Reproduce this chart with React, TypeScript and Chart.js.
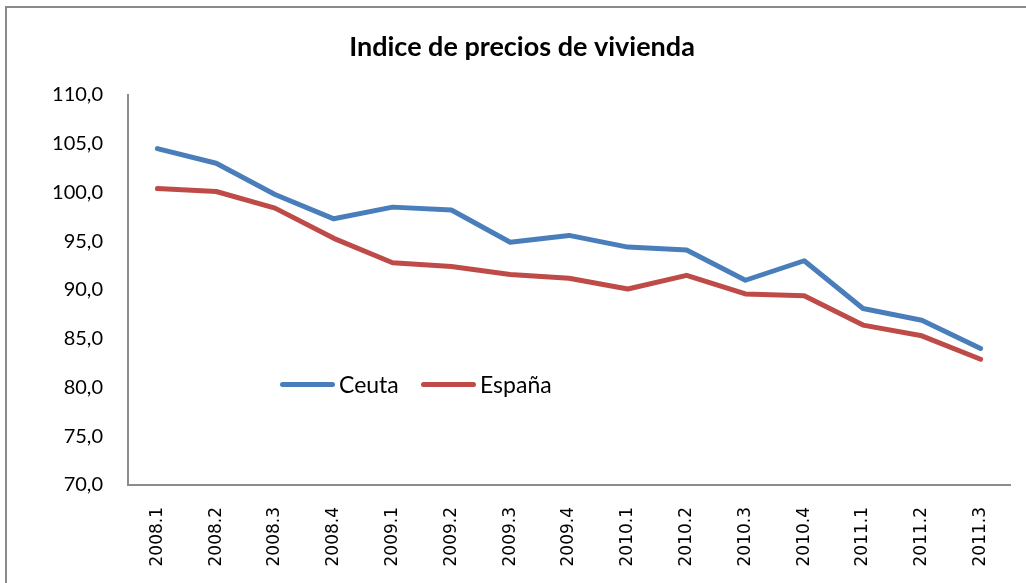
import React, { useEffect, useRef } from "react";
import { Chart, registerables } from "chart.js";

Chart.register(...registerables);

const categories = [
  "2008.1", "2008.2", "2008.3", "2008.4",
  "2009.1", "2009.2", "2009.3", "2009.4",
  "2010.1", "2010.2", "2010.3", "2010.4",
  "2011.1", "2011.2", "2011.3",
];

const ceuta = [104.5, 103.0, 99.8, 97.3, 98.5, 98.2, 94.9, 95.6, 94.4, 94.1, 91.0, 93.0, 88.1, 86.9, 84.0];
const espana = [100.4, 100.1, 98.4, 95.3, 92.8, 92.4, 91.6, 91.2, 90.1, 91.5, 89.6, 89.4, 86.4, 85.3, 82.9];

const seriesNames = ["Ceuta", "España"];
const seriesColors = ["#4A7EBB", "#BE4B48"];

const titleText = "Indice de precios de vivienda";
const yMin = 70;
const yMax = 110;
const yStep = 5;

const FONT = "Lato, 'Open Sans', sans-serif";

export default function App() {
  const canvasRef = useRef<HTMLCanvasElement | null>(null);

  useEffect(() => {
    if (!canvasRef.current) return;
    const chart = new Chart(canvasRef.current, {
      type: "line",
      data: {
        labels: categories,
        datasets: [
          {
            label: seriesNames[0],
            data: ceuta,
            borderColor: seriesColors[0],
            backgroundColor: seriesColors[0],
            borderWidth: 5,
            pointRadius: 0,
            tension: 0,
            borderCapStyle: "round",
            borderJoinStyle: "round",
          },
          {
            label: seriesNames[1],
            data: espana,
            borderColor: seriesColors[1],
            backgroundColor: seriesColors[1],
            borderWidth: 5,
            pointRadius: 0,
            tension: 0,
            borderCapStyle: "round",
            borderJoinStyle: "round",
          },
        ],
      },
      options: {
        responsive: false,
        animation: false,
        layout: { padding: { left: 34, right: 16, top: 0, bottom: 0 } },
        plugins: {
          legend: { display: false },
          tooltip: { enabled: false },
          title: {
            display: true,
            text: titleText,
            color: "#000",
            font: { family: FONT, size: 27, weight: "bold", lineHeight: 1.2 },
            padding: { top: 31, bottom: 31.6 },
          },
        },
        scales: {
          x: {
            type: "category",
            offset: true,
            grid: { display: true, drawOnChartArea: false, drawTicks: false },
            border: { display: true, color: "#8c8c8c", width: 2 },
            ticks: {
              color: "#000",
              font: { family: "'DejaVu Sans', sans-serif", size: 17 },
              minRotation: 90,
              maxRotation: 90,
              padding: 22,
              autoSkip: false,
            },
            afterFit: (scale: any) => {
              scale.height = 98;
            },
          },
          y: {
            type: "linear",
            min: yMin,
            max: yMax,
            grid: { display: true, drawOnChartArea: false, drawTicks: false },
            border: { display: true, color: "#8c8c8c", width: 2 },
            ticks: {
              stepSize: yStep,
              color: "#000",
              font: { family: FONT, size: 20 },
              padding: 25,
              callback: (v: any) => Number(v).toFixed(1).replace(".", ","),
            },
            afterFit: (scale: any) => {
              scale.width = 94;
            },
          },
        },
      },
    });
    return () => chart.destroy();
  }, []);

  const legendItem = (name: string, color: string, left: number) => (
    <div
      key={name}
      style={{
        position: "absolute",
        left,
        top: 372,
        height: 24,
        display: "flex",
        alignItems: "center",
        fontFamily: FONT,
        fontSize: 23,
        color: "#000",
        whiteSpace: "nowrap",
      }}
    >
      <span
        style={{
          display: "inline-block",
          width: 55,
          height: 5,
          borderRadius: 3,
          background: color,
          marginRight: 4,
        }}
      />
      <span>{name}</span>
    </div>
  );

  return (
    <div
      style={{
        position: "fixed",
        left: 0,
        top: 0,
        width: 1026,
        height: 583,
        overflow: "hidden",
        background: "#fff",
      }}
    >
      <div
        style={{
          position: "absolute",
          left: 5,
          top: 6,
          width: 1030,
          height: 600,
          borderLeft: "2px solid #8a8a8a",
          borderTop: "2px solid #8a8a8a",
        }}
      />
      <canvas
        ref={canvasRef}
        width={1026}
        height={583}
        style={{ position: "absolute", left: 0, top: 0 }}
      />
      {legendItem(seriesNames[0], seriesColors[0], 280)}
      {legendItem(seriesNames[1], seriesColors[1], 421)}
    </div>
  );
}
